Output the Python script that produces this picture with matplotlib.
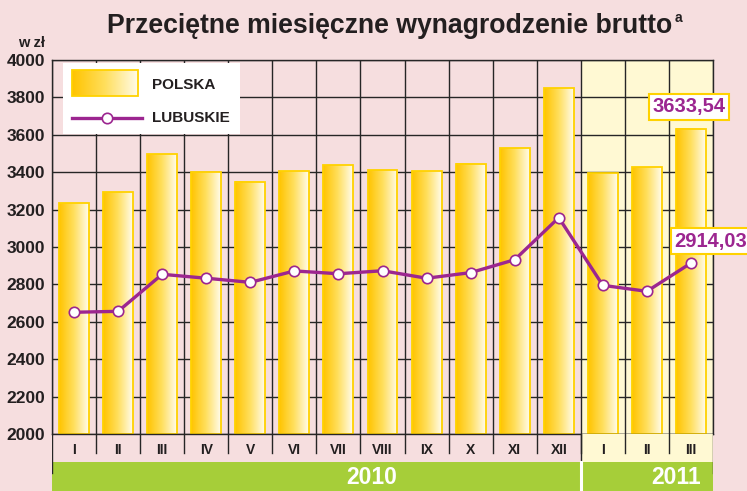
import numpy as np
import matplotlib.pyplot as plt
from matplotlib.colors import LinearSegmentedColormap
from matplotlib.patches import Rectangle
from matplotlib.lines import Line2D

plt.rcParams['font.family'] = ['Liberation Sans', 'DejaVu Sans']
plt.rcParams['font.weight'] = 'bold'

# dane
months = ['I', 'II', 'III', 'IV', 'V', 'VI', 'VII', 'VIII', 'IX', 'X', 'XI', 'XII', 'I', 'II', 'III']
polska = [3235, 3293, 3497, 3401, 3349, 3406, 3437, 3410, 3406, 3444, 3529, 3850, 3394, 3426, 3633.54]
lubuskie = [2651, 2656, 2854, 2833, 2811, 2872, 2857, 2873, 2833, 2863, 2932, 3157, 2795, 2763, 2914.03]
years = ['2010', '2011']
yticks = [2000, 2200, 2400, 2600, 2800, 3000, 3200, 3400, 3600, 3800, 4000]

BG = '#F6DEDF'
YEL = '#FFF9D3'
GREEN = '#A6CE39'
PURPLE = '#9C2690'
GOLD = '#FFD200'
DARK = '#231F20'

grad = LinearSegmentedColormap.from_list('g', ['#FFC400', '#FFDF5E', '#FFFCEB'])
gimg = np.linspace(0, 1, 64).reshape(1, -1)

fig = plt.figure(figsize=(7.47, 4.91), dpi=100)
fig.patch.set_facecolor(BG)

W, H = 747, 491
L, R, T, B = 52, 713, 60, 434
ax = fig.add_axes([L / W, (H - B) / H, (R - L) / W, (B - T) / H])
ax.set_facecolor(BG)
n = len(months)
x = np.arange(n)
ax.set_xlim(-0.5, n - 0.5)
ax.set_ylim(2000, 4000)

# tlo 2011
ax.axvspan(11.5, n - 0.5, color=YEL, zorder=0.2, lw=0)

# siatka
ax.set_yticks(yticks)
ax.set_xticks(np.arange(-0.5, n, 1.0))
ax.set_xticklabels([])
ax.grid(True, color='#262626', lw=1.0)
ax.set_axisbelow(True)
ax.tick_params(length=0, pad=5, labelsize=12.5, colors=DARK)
for lab in ax.get_yticklabels():
    lab.set_fontweight('bold')
for s in ax.spines.values():
    s.set_color('#262626')
    s.set_linewidth(1.0)

# slupki z gradientem
bw = 0.68
for xi, v in zip(x, polska):
    ax.imshow(gimg, cmap=grad, extent=(xi - bw / 2, xi + bw / 2, 2000, v),
              aspect='auto', zorder=2, interpolation='bilinear')
ax.bar(x, np.array(polska) - 2000, bottom=2000, width=bw, fill=False,
       edgecolor=GOLD, lw=1.3, zorder=2.1)
ax.set_xlim(-0.5, n - 0.5)
ax.set_ylim(2000, 4000)

# linia lubuskie
ax.plot(x, lubuskie, color=PURPLE, lw=2.4, marker='o', ms=7.5,
        mfc='white', mec=PURPLE, mew=1.2, zorder=3, clip_on=False)

# etykiety wartosci
ax.text(13.95, 3750, '3633,54', color=PURPLE, fontsize=14.5, fontweight='bold',
        ha='center', va='center', zorder=6, clip_on=False,
        bbox=dict(boxstyle='square,pad=0.18', fc='white', ec=GOLD, lw=1.5))
ax.text(13.62, 3032, '2914,03', color=PURPLE, fontsize=14.5, fontweight='bold',
        ha='left', va='center', zorder=6, clip_on=False,
        bbox=dict(boxstyle='square,pad=0.18', fc='white', ec=GOLD, lw=1.5))

# legenda
tr = ax.transAxes
ax.add_patch(Rectangle((0.0166, 0.802), 0.2674, 0.19, transform=tr, fc='white',
                       ec='none', zorder=5))
ax.imshow(gimg, cmap=grad, extent=(0.030, 0.130, 0.904, 0.973), transform=tr,
          aspect='auto', zorder=5.1, interpolation='bilinear')
ax.add_patch(Rectangle((0.030, 0.904), 0.100, 0.069, transform=tr, fill=False,
                       ec=GOLD, lw=1.3, zorder=5.2))
ax.add_line(Line2D([0.030, 0.136], [0.845, 0.845], transform=tr, color=PURPLE,
                   lw=2.4, zorder=5.2))
ax.add_line(Line2D([0.083], [0.845], transform=tr, marker='o', ms=7.5, mfc='white',
                   mec=PURPLE, mew=1.2, zorder=5.3))
ax.text(0.151, 0.933, 'POLSKA', transform=tr, fontsize=11, fontweight='bold',
        color=DARK, va='center', zorder=5.3)
ax.text(0.151, 0.845, 'LUBUSKIE', transform=tr, fontsize=11, fontweight='bold',
        color=DARK, va='center', zorder=5.3)
ax.set_xlim(-0.5, n - 0.5)
ax.set_ylim(2000, 4000)

# pasek dolny: miesiace i lata
bx = fig.add_axes([L / W, 0, (R - L) / W, (H - B) / H])
bx.set_xlim(-0.5, n - 0.5)
bx.set_ylim(0, H - B)
bx.axis('off')
bx.add_patch(Rectangle((11.5, 29), 3, 28, fc=YEL, ec='none', zorder=0))
bx.add_patch(Rectangle((-0.5, 0), n, 29, fc=GREEN, ec='none', zorder=1))
for b in np.arange(0.5, n - 1, 1.0):
    bx.plot([b, b], [57, 38], color='#262626', lw=1.0, zorder=2)
bx.plot([11.5, 11.5], [57, 29], color='#262626', lw=1.0, zorder=2)
bx.plot([-0.5, -0.5], [57, 18], color='#262626', lw=1.0, zorder=2)
bx.plot([n - 0.5, n - 0.5], [57, 18], color='#262626', lw=1.0, zorder=2)
bx.plot([11.5, 11.5], [0, 29], color='white', lw=2.2, zorder=2)
for xi, m in zip(x, months):
    bx.text(xi, 41, m, ha='center', va='center', fontsize=10, fontweight='bold',
            color=DARK)
bx.text(6.75, 13.5, years[0], ha='center', va='center', fontsize=16.5,
        fontweight='bold', color='white', zorder=3)
bx.text(13.66, 13.5, years[1], ha='center', va='center', fontsize=16.5,
        fontweight='bold', color='white', zorder=3)

# tytul
title = fig.text(107 / W, (H - 33) / H, 'Przeciętne miesięczne wynagrodzenie brutto',
                 fontsize=19.2, fontweight='bold', color=DARK, va='baseline', ha='left')
fig.canvas.draw()
bb = title.get_window_extent()
fig.text((bb.x1 + 2) / W, (H - 22) / H, 'a', fontsize=10, fontweight='bold',
         color=DARK, va='baseline', ha='left')
fig.text(18 / W, (H - 47) / H, 'w zł', fontsize=10.5, fontweight='bold',
         color=DARK, va='baseline', ha='left')

fig.savefig('out.png', dpi=100, facecolor=BG)
